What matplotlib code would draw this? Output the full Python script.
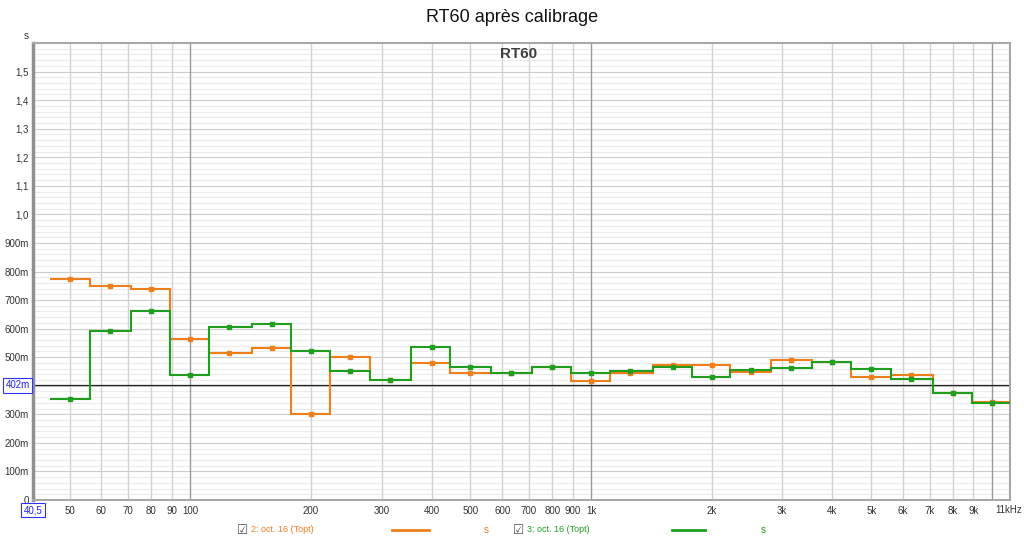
import matplotlib
matplotlib.use("Agg")
import matplotlib.pyplot as plt
import numpy as np

# 1/3 octave band centres (Hz)
bands = [50, 63, 80, 100, 125, 160, 200, 250, 315, 400, 500, 630, 800,
         1000, 1250, 1600, 2000, 2500, 3150, 4000, 5000, 6300, 8000, 10000]

# RT60 (s) per band
rt60_orange = [0.774, 0.748, 0.738, 0.565, 0.516, 0.531, 0.302, 0.502, 0.421,
               0.478, 0.443, 0.446, 0.464, 0.415, 0.446, 0.474, 0.474, 0.449,
               0.491, 0.483, 0.431, 0.437, 0.375, 0.344]
rt60_green = [0.353, 0.591, 0.663, 0.436, 0.607, 0.616, 0.521, 0.453, 0.421,
              0.537, 0.464, 0.446, 0.464, 0.444, 0.453, 0.466, 0.432, 0.456,
              0.462, 0.483, 0.457, 0.424, 0.375, 0.340]

ref_level = 0.402
x_ticks = [50, 60, 70, 80, 90, 100, 200, 300, 400, 500, 600, 700, 800, 900,
           1000, 2000, 3000, 4000, 5000, 6000, 7000, 8000, 9000, 10000]
x_labels = ['50', '60', '70', '80', '90', '100', '200', '300', '400', '500',
            '600', '700', '800', '900', '1k', '2k', '3k', '4k', '5k', '6k',
            '7k', '8k', '9k', '']
y_ticks = [0, 0.1, 0.2, 0.3, 0.4, 0.5, 0.6, 0.7, 0.8, 0.9,
           1.0, 1.1, 1.2, 1.3, 1.4, 1.5]
y_labels = ['0', '100m', '200m', '300m', '', '500m', '600m', '700m', '800m',
            '900m', '1,0', '1,1', '1,2', '1,3', '1,4', '1,5']

ORANGE = '#ef7f1a'
GREEN = '#1f9e1f'
plt.rcParams['font.family'] = ['Liberation Sans', 'DejaVu Sans']

fig = plt.figure(figsize=(10.24, 5.41), dpi=100)
ax = fig.add_axes([33 / 1024, 1 - 500 / 541, 977 / 1024, 457 / 541])

ax.set_xscale('log')
ax.set_xlim(40.5, 11100)
ax.set_ylim(0, 1.6)

# grid
for yv in np.arange(0.02, 1.6, 0.02):
    major = abs(yv * 10 - round(yv * 10)) < 1e-6
    ax.axhline(yv, color='#cdcdcd' if major else '#ebebeb', lw=0.8, zorder=0)
for xv in x_ticks:
    dark = xv in (100, 1000, 10000)
    ax.axvline(xv, color='#9a9a9a' if dark else '#d2d2d2', lw=1.0, zorder=0)

ax.axhline(ref_level, color='#202020', lw=0.9, zorder=1)

# band edges
centres = np.array(bands, dtype=float)
edges = np.concatenate([centres / 2 ** (1 / 6), [centres[-1] * 2 ** (1 / 6)]])

for vals, col in [(rt60_orange, ORANGE), (rt60_green, GREEN)]:
    ax.stairs(vals, edges, baseline=None, color=col, lw=1.5, zorder=3)
    ax.plot(centres, vals, 's', color=col, ms=2.6, zorder=4)

ax.set_xticks(x_ticks)
ax.set_xticklabels(x_labels)
ax.xaxis.set_minor_locator(matplotlib.ticker.NullLocator())
ax.set_yticks(y_ticks)
ax.set_yticklabels(y_labels)
ax.tick_params(axis='both', length=0, labelsize=7, colors='#333333')
ax.tick_params(axis='x', pad=4)
ax.tick_params(axis='y', pad=3)

for side in ['top', 'right', 'bottom']:
    ax.spines[side].set_color('#a8a8a8')
    ax.spines[side].set_linewidth(1.5)
ax.spines['left'].set_color('#909090')
ax.spines['left'].set_linewidth(2.5)

# blue boxes
box = dict(boxstyle='square,pad=0.25', fc='white', ec='#3030ff', lw=0.8)
ax.text(-0.003, ref_level, '402m', transform=ax.get_yaxis_transform(),
        ha='right', va='center', fontsize=7, color='#2020ff', bbox=box, zorder=5)
ax.text(0, -0.022, '40,5', transform=ax.transAxes, ha='center', va='center',
        fontsize=7, color='#2020ff', bbox=box, clip_on=False)
ax.text(11000, -0.022, '11kHz', transform=ax.get_xaxis_transform(),
        ha='center', va='center', fontsize=7, color='#333333')

ax.text(-0.007, 1.005, 's', transform=ax.transAxes, ha='center', va='bottom',
        fontsize=7, color='#333333')
ax.text((519 - 33) / 977, 1 - (54 - 43) / 457, 'RT60', transform=ax.transAxes,
        ha='center', va='center', fontsize=11, fontweight='bold', color='#404040')

fig.text(0.5, 1 - 17 / 541, 'RT60 après calibrage', ha='center', va='center',
         fontsize=13, color='#111111')

# legend row
ly = 1 - 530 / 541
fig.text(243 / 1024, ly, '\u2611', ha='center', va='center', fontsize=9,
         color='#555555', family='DejaVu Sans')
fig.text(251 / 1024, ly, '2: oct. 16 (Topt)', ha='left', va='center',
         fontsize=6.5, color=ORANGE)
fig.add_artist(plt.Line2D([392 / 1024, 429 / 1024], [ly, ly], color=ORANGE, lw=2))
fig.text(486 / 1024, ly, 's', ha='center', va='center', fontsize=7, color=ORANGE)
fig.text(519 / 1024, ly, '\u2611', ha='center', va='center', fontsize=9,
         color='#555555', family='DejaVu Sans')
fig.text(527 / 1024, ly, '3: oct. 16 (Topt)', ha='left', va='center',
         fontsize=6.5, color=GREEN)
fig.add_artist(plt.Line2D([672 / 1024, 705 / 1024], [ly, ly], color=GREEN, lw=2))
fig.text(763 / 1024, ly, 's', ha='center', va='center', fontsize=7, color=GREEN)

fig.savefig('out.png', dpi=100)
